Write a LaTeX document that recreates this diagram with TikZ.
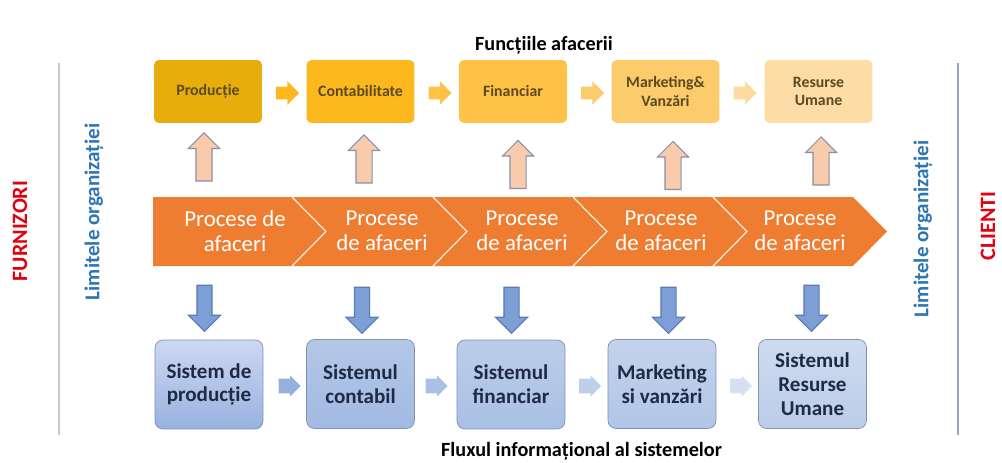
\documentclass[tikz,border=0pt]{standalone}
\usepackage{fontspec}
\setmainfont{Carlito}
\usetikzlibrary{shapes.arrows}
\definecolor{fun1}{HTML}{E6AD0C}
\definecolor{fun2}{HTML}{FDB81E}
\definecolor{fun3}{HTML}{FFC246}
\definecolor{fun4}{HTML}{FCCB6C}
\definecolor{fun5}{HTML}{FDDCA5}
\definecolor{funtext}{HTML}{5B4A22}
\definecolor{procorange}{HTML}{EE7D31}
\definecolor{peach}{HTML}{F8CBAD}
\definecolor{arrowline}{HTML}{8A8EA8}
\definecolor{sysblue}{HTML}{7D9FD6}
\definecolor{sysblueline}{HTML}{5A7AB6}
\definecolor{sysline}{HTML}{7F8FB5}
\definecolor{systext}{HTML}{1F2A44}
\definecolor{limblue}{HTML}{2E75B6}
\definecolor{extred}{HTML}{E3000F}
\begin{document}
\begin{tikzpicture}[x=0.02cm, y=-0.02cm,
  func/.style = {rectangle, rounded corners=0.1cm, minimum width=2.16cm, minimum height=1.26cm, align=center, text=funtext, font=\fontsize{9}{10.5}\selectfont\bfseries},
  sys/.style = {draw=sysline, rectangle, rounded corners=0.16cm, minimum width=2.16cm, minimum height=1.78cm, align=center, text=systext, font=\fontsize{12}{13.5}\selectfont\bfseries},
  nextarrow/.style = {single arrow, shape border rotate=0, inner sep=0.12cm, single arrow head extend=0.11cm, minimum height=0.46cm},
  uparrow/.style = {single arrow, shape border rotate=90, fill=peach, draw=arrowline, line width=0.6pt, inner sep=0.15cm, single arrow head extend=0.15cm, minimum height=0.96cm},
  downarrow/.style = {single arrow, shape border rotate=270, fill=sysblue, draw=sysblueline, line width=0.6pt, inner sep=0.14cm, single arrow head extend=0.17cm, minimum height=0.92cm},
  proc/.style = {align=center, text=white, font=\fontsize{13}{14}\selectfont},
  title/.style = {font=\fontsize{11.5}{13}\selectfont\bfseries},
  side/.style = {rotate=90, inner sep=0, font=\fontsize{12.5}{14}\selectfont\bfseries}]
  \useasboundingbox (0, 0) rectangle (1002, 463);
  % functiile afacerii
  \node[title] at (544, 45) (fun-title) {Funcțiile afacerii};
  \node[func, fill=fun1] at (208, 91.5) (prod) {Producție};
  \node[func, fill=fun2] at (360.5, 91.5) (contab) {Contabilitate};
  \node[func, fill=fun3] at (513, 91.5) (financiar) {Financiar};
  \node[func, fill=fun4] at (665.5, 91.5) (marketing) {Marketing\&\\Vanzări};
  \node[func, fill=fun5] at (818.5, 91.5) (resurse) {Resurse\\Umane};
  \node[nextarrow, fill=fun2] at (284.5, 93) (next1) {};
  \node[nextarrow, fill=fun3] at (437, 93) (next2) {};
  \node[nextarrow, fill=fun4] at (589.5, 93) (next3) {};
  \node[nextarrow, fill=fun5!90!fun4] at (742, 93) (next4) {};
  % procese de afaceri
  \fill[procorange] (153, 197) -- (853, 197) -- (887, 231.5) -- (853, 266) -- (153, 266) -- cycle;
  \draw[white!85!procorange, line width=0.7pt] (292, 197) -- (326, 231.5) -- (292, 266);
  \draw[white!85!procorange, line width=0.7pt] (433, 197) -- (467, 231.5) -- (433, 266);
  \draw[white!85!procorange, line width=0.7pt] (573, 197) -- (607, 231.5) -- (573, 266);
  \draw[white!85!procorange, line width=0.7pt] (713, 197) -- (747, 231.5) -- (713, 266);
  \node[proc] at (235, 231) (proc1) {Procese de\\afaceri};
  \node[proc] at (382, 231) (proc2) {Procese\\de afaceri};
  \node[proc] at (522, 231) (proc3) {Procese\\de afaceri};
  \node[proc] at (661, 231) (proc4) {Procese\\de afaceri};
  \node[proc] at (800, 231) (proc5) {Procese\\de afaceri};
  \node[uparrow] at (204, 161) (up1) {};
  \node[uparrow] at (364, 163) (up2) {};
  \node[uparrow] at (518, 168.5) (up3) {};
  \node[uparrow] at (673, 169.5) (up4) {};
  \node[uparrow] at (821, 165) (up5) {};
  \node[downarrow] at (204.5, 304.5) (down1) {};
  \node[downarrow] at (362, 306.5) (down2) {};
  \node[downarrow] at (511.5, 306.5) (down3) {};
  \node[downarrow] at (668.5, 306.5) (down4) {};
  \node[downarrow] at (811.5, 304.5) (down5) {};
  % fluxul informational
  \node[sys, top color=blue!6!white!70!sysblue, bottom color=sysblue!80!white] at (209, 384.5) (sys-prod) {Sistem de\\producție};
  \node[sys, top color=sysblue!58!white, bottom color=sysblue!72!white] at (360.5, 384) (sys-contab) {Sistemul\\contabil};
  \node[sys, top color=sysblue!52!white, bottom color=sysblue!66!white] at (511, 384.5) (sys-fin) {Sistemul\\financiar};
  \node[sys, top color=sysblue!46!white, bottom color=sysblue!60!white] at (662, 384) (sys-mkt) {Marketing\\si vanzări};
  \node[sys, top color=sysblue!38!white, bottom color=sysblue!52!white] at (812.5, 384) (sys-res) {Sistemul\\Resurse\\Umane};
  \node[nextarrow, fill=sysblue!82!white, inner sep=0.14cm, single arrow head extend=0.065cm, minimum height=0.44cm] at (286, 386) (flow1) {};
  \node[nextarrow, fill=sysblue!66!white, inner sep=0.14cm, single arrow head extend=0.065cm, minimum height=0.44cm] at (433, 386) (flow2) {};
  \node[nextarrow, fill=sysblue!50!white, inner sep=0.14cm, single arrow head extend=0.065cm, minimum height=0.44cm] at (586.5, 386) (flow3) {};
  \node[nextarrow, fill=sysblue!32!white, inner sep=0.14cm, single arrow head extend=0.065cm, minimum height=0.44cm] at (737.5, 386) (flow4) {};
  \node[title] at (581.5, 451) (flux-title) {Fluxul informațional al sistemelor};
  % limitele organizatiei
  \draw[black!25!blue!10!white!70!gray, line width=0.6pt] (59, 63) -- (59, 435);
  \draw[sysline!80!white, line width=0.6pt] (958, 63) -- (958, 435);
  \node[side, text=extred] at (20, 231) (furnizori) {FURNIZORI};
  \node[side, text=limblue, font=\fontsize{12}{14}\selectfont\bfseries] at (94, 212) (limita-st) {Limitele organizației};
  \node[side, text=limblue, font=\fontsize{12}{14}\selectfont\bfseries] at (923, 229) (limita-dr) {Limitele organizației};
  \node[side, text=extred] at (988, 226) (clienti) {CLIENTI};
\end{tikzpicture}
\end{document}
